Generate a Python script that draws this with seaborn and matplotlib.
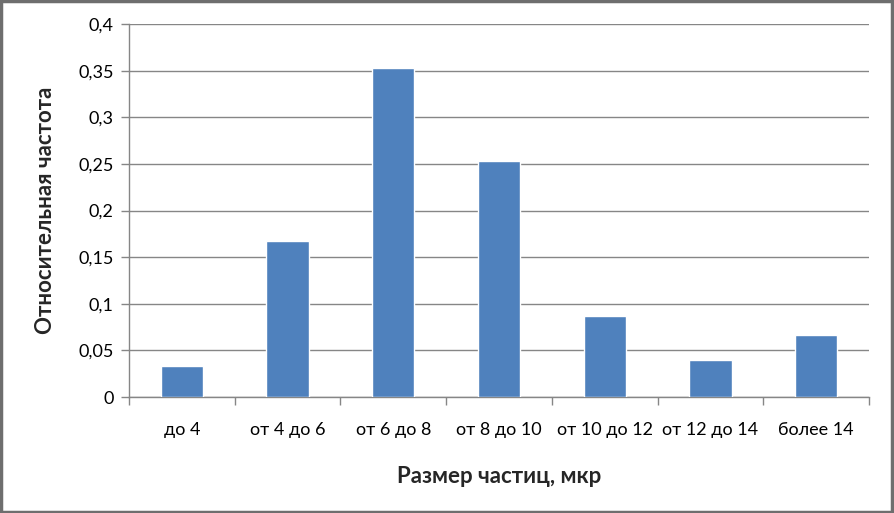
import matplotlib
matplotlib.use('Agg')
import matplotlib.pyplot as plt
from matplotlib.patches import Rectangle
from matplotlib.ticker import MultipleLocator, FuncFormatter
import seaborn as sns
import pandas as pd

# data
categories = ['до 4', 'от 4 до 6', 'от 6 до 8', 'от 8 до 10', 'от 10 до 12', 'от 12 до 14', 'более 14']
freq = [0.033, 0.167, 0.353, 0.253, 0.087, 0.040, 0.066]

df = pd.DataFrame({'size': categories, 'freq': freq})

sns.set_style('white')
plt.rcParams['font.family'] = ['Lato', 'DejaVu Sans']

fig = plt.figure(figsize=(8.94, 5.13), dpi=100)
ax = fig.add_axes([0.1443, 0.2261, 0.8277, 0.7271])

sns.barplot(data=df, x='size', y='freq', color='#4f81bd', width=0.4,
            saturation=1, ax=ax, zorder=3)

ax.set_xlim(-0.5, len(categories) - 0.5)
ax.set_ylim(0, 0.4)
ax.yaxis.set_major_locator(MultipleLocator(0.05))
ax.yaxis.set_major_formatter(FuncFormatter(lambda v, p: ('%g' % round(v, 2)).replace('.', ',')))
ax.grid(axis='y', color='#868686', linewidth=1, zorder=0)

for s in ['top', 'right']:
    ax.spines[s].set_visible(False)
for s in ['left', 'bottom']:
    ax.spines[s].set_color('#868686')
    ax.spines[s].set_linewidth(1)

# x ticks sit on category boundaries, labels in the middle
ax.set_xticks([i - 0.5 for i in range(len(categories) + 1)])
ax.set_xticklabels([])
ax.set_xticks(range(len(categories)), minor=True)
ax.set_xticklabels(categories, minor=True)
ax.tick_params(axis='x', which='major', length=6, color='#868686', width=1, direction='out', bottom=True)
ax.tick_params(axis='x', which='minor', length=0, labelsize=13, pad=18, colors='black')
ax.tick_params(axis='y', length=6, color='#868686', width=1, direction='out', left=True,
               labelsize=13, pad=5, labelcolor='black')

ax.set_xlabel('Размер частиц, мкр', fontsize=16, fontweight='bold', labelpad=20)
ax.set_ylabel('Относительная частота', fontsize=16, fontweight='bold', labelpad=16)

# outer frame
fig.patches.append(Rectangle((0.001, 0.002), 0.997, 0.996, transform=fig.transFigure,
                             fill=False, edgecolor='#6e6e6e', linewidth=2.5))

fig.savefig('out.png', dpi=100)
